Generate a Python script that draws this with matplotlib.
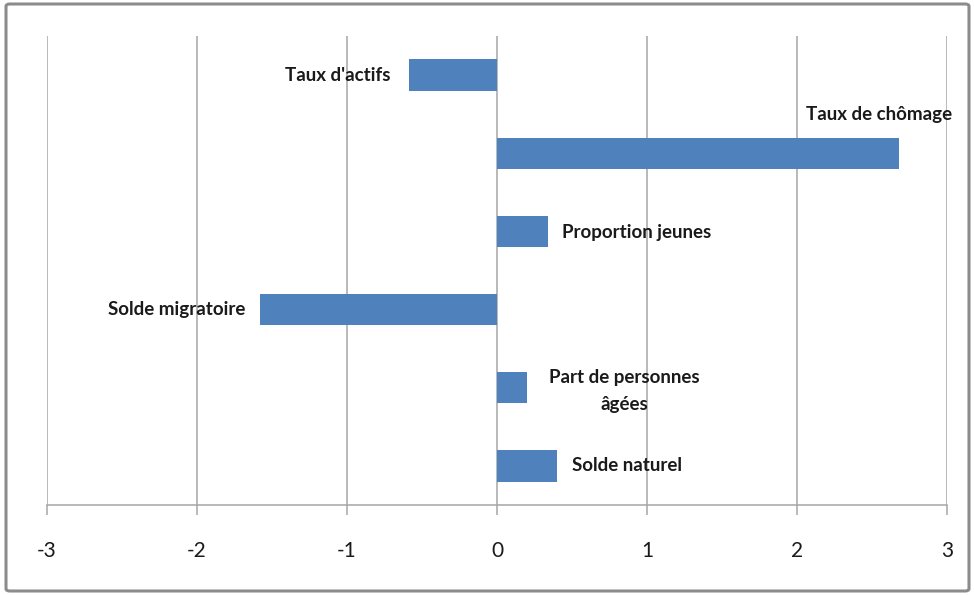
import numpy as np
import matplotlib.pyplot as plt
from matplotlib.patches import FancyBboxPatch

plt.rcParams['font.family'] = ['Lato', 'DejaVu Sans']

# categories from top to bottom
categories = ["Taux d'actifs", "Taux de chômage", "Proportion jeunes",
              "Solde migratoire", "Part de personnes\nâgées", "Solde naturel"]
values = [-0.59, 2.68, 0.34, -1.58, 0.20, 0.40]
xticks = [-3, -2, -1, 0, 1, 2, 3]

fig = plt.figure(figsize=(9.74, 5.95), dpi=100)
ax = fig.add_axes([47/974, 1 - 505/595, 900/974, 469/595])

# outer frame
frame = FancyBboxPatch((6/974, 4/595), 963/974, 587/595,
                       boxstyle="round,pad=0,rounding_size=0.004",
                       transform=fig.transFigure, fill=False,
                       edgecolor='#8c8c8c', linewidth=2.2)
fig.patches.append(frame)

y = np.arange(len(categories))[::-1]
ax.barh(y, values, height=0.4, color='#4f81bd', zorder=3)

ax.set_xlim(-3, 3)
ax.set_ylim(-0.5, len(categories) - 0.5)
ax.set_xticks(xticks)
ax.set_xticklabels([str(t) for t in xticks])
ax.set_yticks([])
ax.grid(axis='x', color='#a6a6a6', linewidth=1.1, zorder=0)
for s in ['top', 'right', 'left']:
    ax.spines[s].set_visible(False)
ax.spines['bottom'].set_color('#a6a6a6')
ax.spines['bottom'].set_linewidth(1.1)
ax.tick_params(axis='x', length=7, width=1.1, color='#a6a6a6',
               labelsize=15, labelcolor='#1a1a1a', pad=19)

# labels next to each bar (offsets in data units)
lab_kw = dict(fontsize=13.5, fontweight='bold', color='#1a1a1a')
ax.text(values[0] - 0.12, y[0], categories[0], ha='right', va='center', **lab_kw)
ax.text(2.06, y[1] + 0.5, categories[1], ha='left', va='center', **lab_kw)
ax.text(values[2] + 0.09, y[2] - 0.02, categories[2], ha='left', va='center', **lab_kw)
ax.text(values[3] - 0.1, y[3], categories[3], ha='right', va='center', **lab_kw)
ax.text(0.85, y[4] - 0.04, categories[4], ha='center', va='center',
        linespacing=1.7, **lab_kw)
ax.text(values[5] + 0.1, y[5], categories[5], ha='left', va='center', **lab_kw)

fig.savefig('out.png', dpi=100)
